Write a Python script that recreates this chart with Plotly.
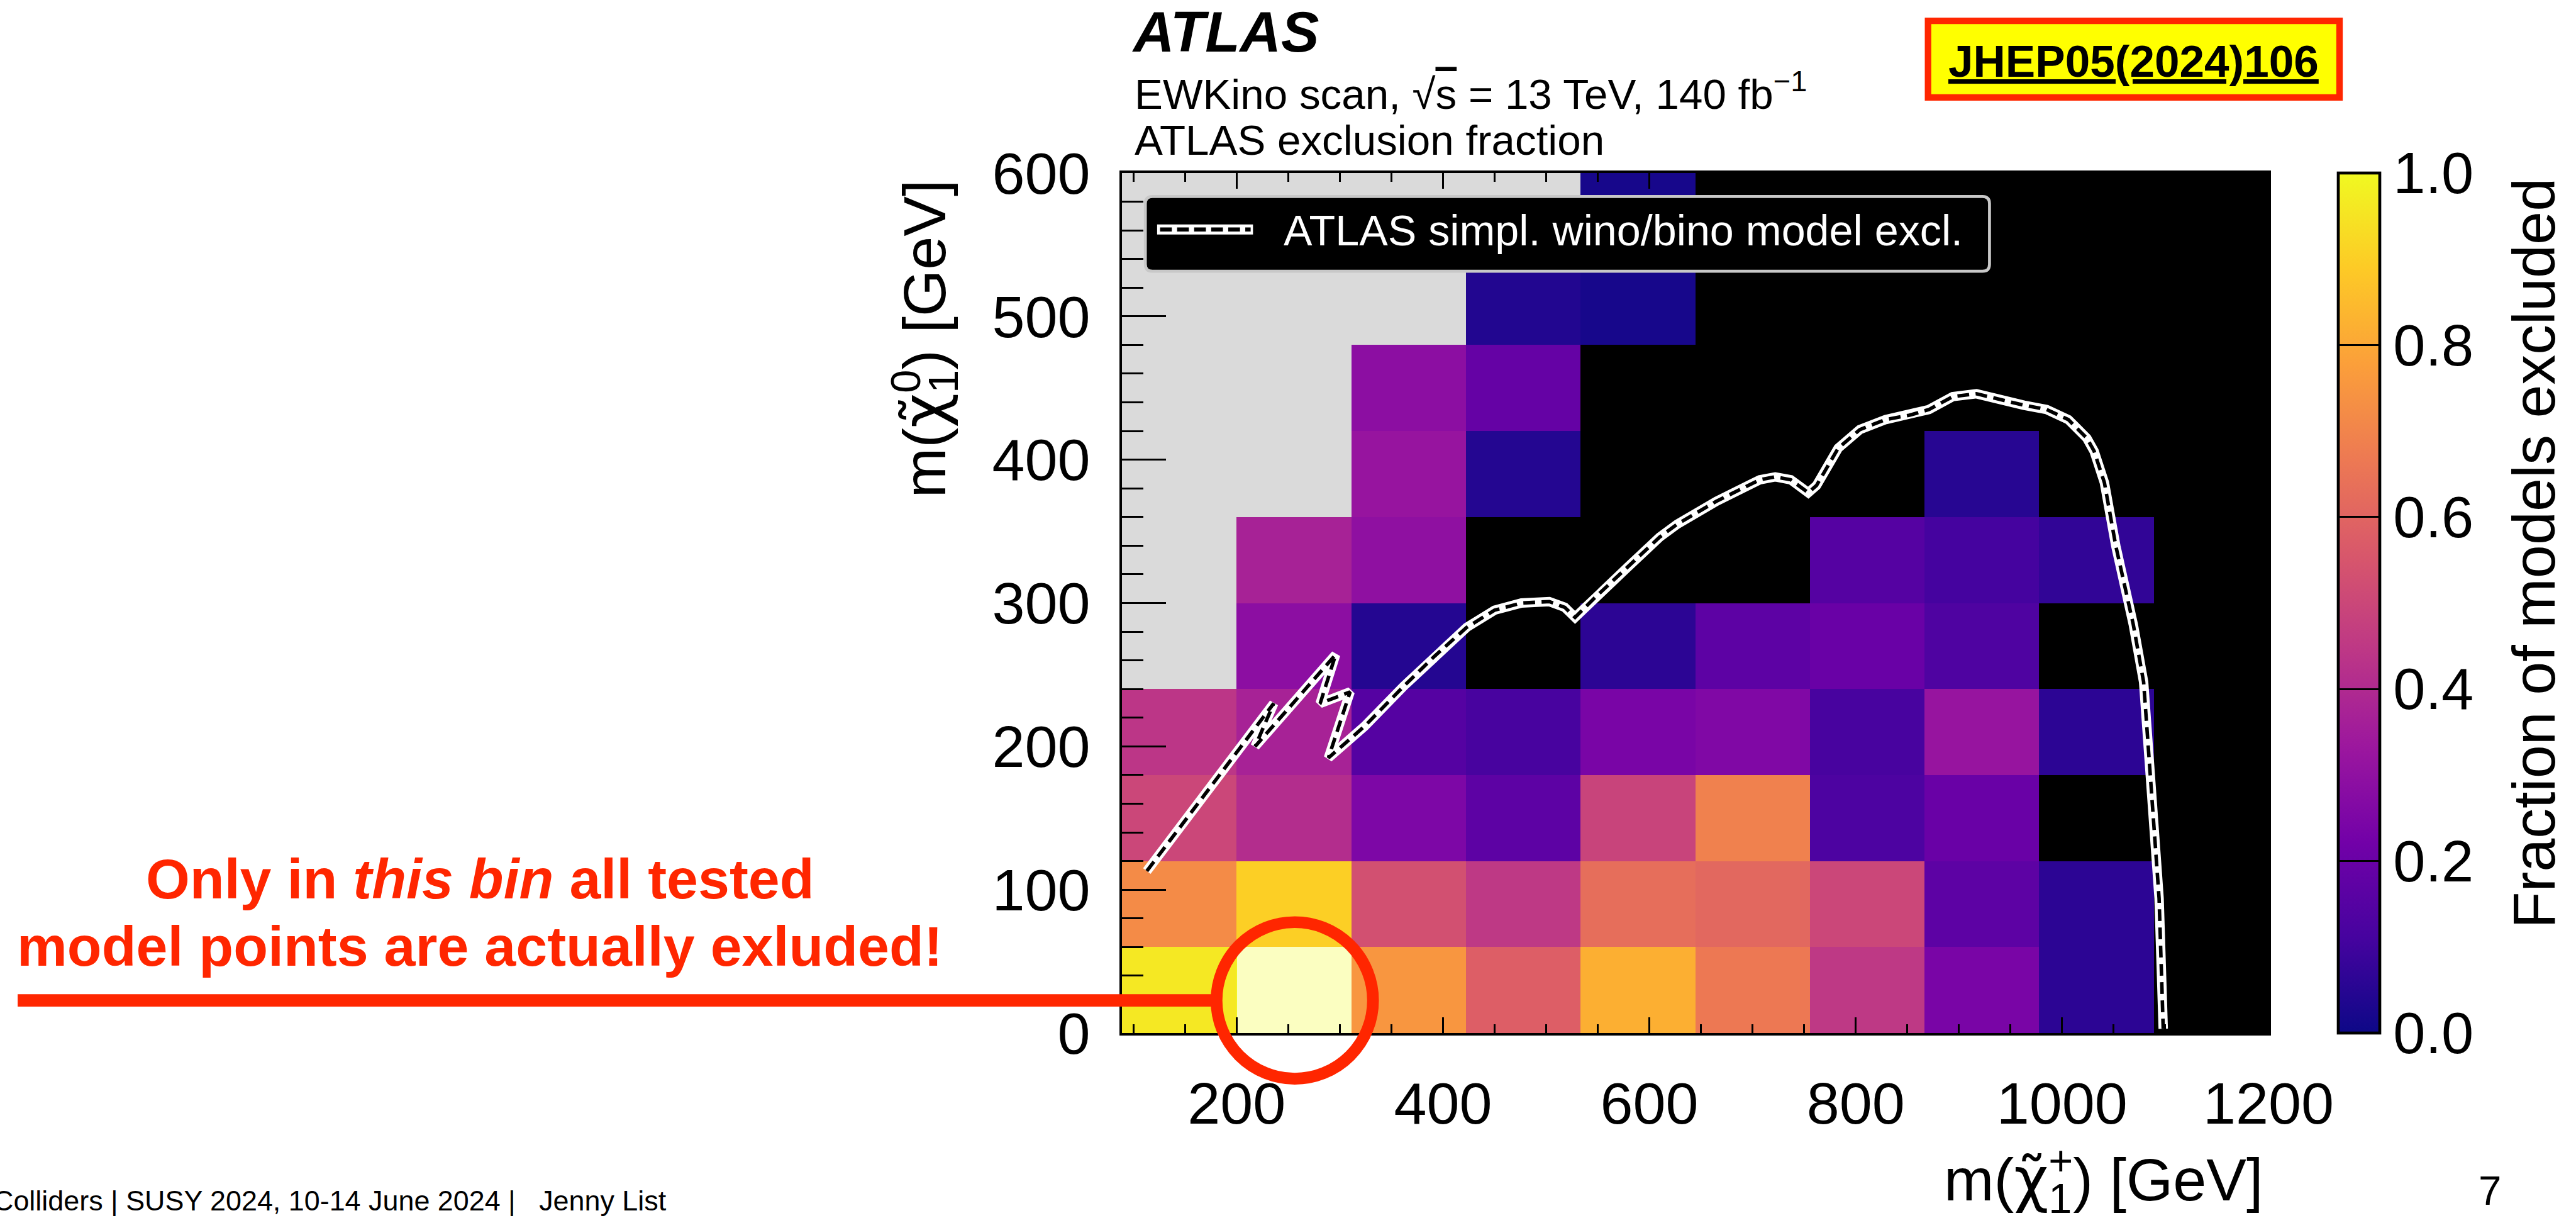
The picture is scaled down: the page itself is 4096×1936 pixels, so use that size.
import plotly.graph_objects as go

# ---------------- geometry helpers (reference px -> output) ----------------
S = 4096 / 4379
W, H = 4096, 1936
ML, MR, MT, MB = 1784, 489, 275, 294
PL, PR, PT, PB = ML, W - MR, MT, H - MB


def px(xr):
    return (xr * S - PL) / (PR - PL)


def py(yr):
    return (PB - yr * S) / (PB - PT)


def sz(v):
    return v * S


FONT = "Liberation Sans, Arial, Helvetica, sans-serif"
RED = "#ff2600"

# ---------------- data ----------------
x_edges = [88.9, 200.0, 311.1, 422.2, 533.3, 644.4, 755.6, 866.7, 977.8, 1088.9, 1200.0]
y_edges = [0, 60, 120, 180, 240, 300, 360, 420, 480, 540, 600]

N = None
# fraction of models excluded, rows from bottom (m_chi0 = 0-60) to top
frac = [
    [0.96, 1.00, 0.75, 0.58, 0.82, 0.665, 0.45, 0.24, 0.06, N],
    [0.72, 0.90, 0.53, 0.45, 0.63, 0.61, 0.50, 0.17, 0.06, N],
    [0.50, 0.41, 0.25, 0.17, 0.49, 0.69, 0.13, 0.20, N, N],
    [0.44, 0.37, 0.15, 0.115, 0.24, 0.26, 0.115, 0.32, 0.06, N],
    [N, 0.29, 0.045, N, 0.06, 0.17, 0.20, 0.135, N, N],
    [N, 0.37, 0.30, N, N, N, 0.15, 0.11, 0.07, N],
    [N, N, 0.32, 0.045, N, N, N, 0.05, N, N],
    [N, N, 0.29, 0.19, N, N, N, N, N, N],
    [N, N, N, 0.04, 0.02, N, N, N, N, N],
    [N, N, N, N, 0.02, N, N, N, N, N],
]
# bins not populated (kinematically excluded region) -> drawn grey
grey_rows = [4, 5, 6, 6, 7, 7, 8, 8, 8, 9, 9, 9, 9]
grey_cols = [0, 0, 0, 1, 0, 1, 0, 1, 2, 0, 1, 2, 3]
# highlighted bin (column, row)
hl_col, hl_row = 1, 0

contour_x = [113, 236, 218, 296, 281, 310, 289, 324, 362, 392, 423, 450, 476, 503, 518,
             528, 549, 579, 610, 627, 665, 707, 722, 737, 754, 762, 783, 804, 829, 852,
             871, 894, 917, 963, 985, 1006, 1024, 1031, 1041, 1052, 1069, 1079, 1085,
             1092, 1094, 1098]
contour_y = [113, 230, 200, 264, 230, 238, 192, 214, 242, 263, 283, 295, 300, 301, 297,
             290, 305, 325, 346, 355, 371, 386, 388, 386, 377, 382, 408, 421, 428, 431,
             435, 444, 446, 438, 435, 428, 415, 406, 384, 340, 285, 245, 186, 115, 94, 3]

cb_ticks = [0.0, 0.2, 0.4, 0.6, 0.8, 1.0]
cb_minor = [0.05, 0.10, 0.15, 0.25, 0.30, 0.35, 0.45, 0.50, 0.55, 0.65, 0.70, 0.75,
            0.85, 0.90, 0.95]

# ---------------- traces ----------------
nrow, ncol = len(y_edges) - 1, len(x_edges) - 1
z_grey = [[None] * ncol for _ in range(nrow)]
for r, c in zip(grey_rows, grey_cols):
    z_grey[r][c] = 1
z_hl = [[None] * ncol for _ in range(nrow)]
z_hl[hl_row][hl_col] = 1

fig = go.Figure()
fig.add_trace(go.Heatmap(x=x_edges, y=y_edges, z=z_grey, showscale=False,
                         colorscale=[[0, "#dadada"], [1, "#dadada"]], hoverinfo="skip"))
fig.add_trace(go.Heatmap(
    x=x_edges, y=y_edges, z=frac, zmin=0, zmax=1, colorscale="Plasma", hoverinfo="skip",
    colorbar=dict(
        x=px(3975), xanchor="left", xpad=0, y=0.5, yanchor="middle", len=1,
        lenmode="fraction", ypad=0, thickness=sz(71), outlinewidth=sz(5),
        outlinecolor="black", ticks="inside", ticklen=sz(71), tickwidth=sz(3),
        tickcolor="black", tickvals=cb_ticks, ticktext=[f"{v:.1f}" for v in cb_ticks],
        tickfont=dict(size=92, color="black", family=FONT),
    )))
fig.add_trace(go.Heatmap(x=x_edges, y=y_edges, z=z_hl, showscale=False, opacity=0.72,
                         colorscale=[[0, "white"], [1, "white"]], hoverinfo="skip"))

fig.add_trace(go.Scatter(x=contour_x, y=contour_y, mode="lines", hoverinfo="skip",
                         line=dict(color="white", width=sz(16)), showlegend=False))
fig.add_trace(go.Scatter(x=contour_x, y=contour_y, mode="lines", hoverinfo="skip",
                         line=dict(color="black", width=sz(6),
                                   dash=f"{sz(20):.1f}px,{sz(11):.1f}px"),
                         showlegend=False))

# ---------------- shapes ----------------
shapes = []


def rounded_rect(x0, y0, x1, y1, r):
    pts = [
        ("M", [(x0 + r, y0)]), ("L", [(x1 - r, y0)]), ("Q", [(x1, y0), (x1, y0 + r)]),
        ("L", [(x1, y1 - r)]), ("Q", [(x1, y1), (x1 - r, y1)]), ("L", [(x0 + r, y1)]),
        ("Q", [(x0, y1), (x0, y1 - r)]), ("L", [(x0, y0 + r)]), ("Q", [(x0, y0), (x0 + r, y0)]),
    ]
    s = ""
    for cmd, pl in pts:
        s += cmd + " " + " ".join(f"{px(a):.5f},{py(b):.5f}" for a, b in pl) + " "
    return s + "Z"


# legend box
shapes.append(dict(type="path", xref="paper", yref="paper",
                   path=rounded_rect(1947, 334, 3382, 461, 12),
                   fillcolor="black", line=dict(color="#c8c8c8", width=sz(5))))
shapes.append(dict(type="line", xref="paper", yref="paper", x0=px(1967), x1=px(2130),
                   y0=py(390), y1=py(390), line=dict(color="white", width=sz(17))))
shapes.append(dict(type="line", xref="paper", yref="paper", x0=px(1972), x1=px(2126),
                   y0=py(390), y1=py(390),
                   line=dict(color="black", width=sz(7), dash=f"{sz(20):.1f}px,{sz(9):.1f}px")))
# colour-bar minor ticks
for v in cb_minor:
    shapes.append(dict(type="line", xref="paper", yref="paper", x0=px(4047 - 35),
                       x1=px(4047), y0=v, y1=v, line=dict(color="black", width=sz(3))))
# JHEP box
shapes.append(dict(type="rect", xref="paper", yref="paper", x0=px(3277.5), x1=px(3977),
                   y0=py(35.5), y1=py(165.5), fillcolor="#ffff00",
                   line=dict(color=RED, width=sz(11))))
# red pointer line and circle
shapes.append(dict(type="line", xref="paper", yref="paper", x0=px(30), x1=px(2070),
                   y0=py(1700), y1=py(1700), line=dict(color=RED, width=sz(21))))
shapes.append(dict(type="circle", xref="paper", yref="paper", x0=px(2068), x1=px(2334),
                   y0=py(1833), y1=py(1567), line=dict(color=RED, width=sz(20))))

# ---------------- annotations ----------------
ann = []


def text(t, xr, yr, size, xa="left", ya="middle", color="black", angle=0):
    ann.append(dict(text=t, x=px(xr), y=py(yr), xref="paper", yref="paper",
                    xanchor=xa, yanchor=ya, showarrow=False, textangle=angle,
                    font=dict(size=size, color=color, family=FONT)))


CHI = "<span style='font-family:DejaVu Sans'>χ̃</span>"
SUB1 = "<sub><span style='letter-spacing:-0.556em'>1</span></sub>"
text("<b><i>ATLAS</i></b>", 1922, 54, sz(97))
text("EWKino scan, √<span style='text-decoration:overline'>s</span> = 13 TeV, 140 fb<sup>−1</sup>",
     1926, 155, sz(72))
text("ATLAS exclusion fraction", 1926, 238, sz(72))
text("<b><span style='text-decoration:underline'>JHEP05(2024)106</span></b>", 3627, 104,
     sz(76), xa="center")
text("ATLAS simpl. wino/bino model excl.", 2180, 391, sz(73), color="white")
text("<b>Only in <i>this bin</i> all tested</b>", 816, 1493, sz(96), xa="center", color=RED)
text("<b>model points are actually exluded!</b>", 816, 1608, sz(96), xa="center", color=RED)
text("Colliders | SUSY 2024, 10-14 June 2024 |\u00a0\u00a0 Jenny List", 1135, 2040, sz(48),
     xa="right")
text("7", 4232, 2023, sz(70), xa="center")
text(f"m({CHI}{SUB1}<sup>0</sup>) [GeV]", 1566, 303, sz(102), xa="center", ya="top",
     angle=-90)
text(f"m({CHI}{SUB1}<sup>+</sup>) [GeV]", 3850, 1998, sz(102), xa="right")
text("Fraction of models excluded", 4307, 300, sz(102), xa="center", ya="top", angle=-90)

# ---------------- layout ----------------
axis_common = dict(showline=True, linewidth=sz(4), linecolor="black", mirror="ticks",
                   showgrid=False, zeroline=False, ticks="inside", tickcolor="black",
                   tickwidth=sz(3), tickfont=dict(size=sz(100), color="black", family=FONT))
fig.update_layout(
    width=W, height=H, margin=dict(l=ML, r=MR, t=MT, b=MB, autoexpand=False),
    paper_bgcolor="white", plot_bgcolor="black", showlegend=False,
    xaxis=dict(range=[88.9, 1200], tick0=0, dtick=200, ticklen=sz(27),
               minor=dict(dtick=50, tick0=0, ticks="inside", ticklen=sz(15),
                          tickwidth=sz(3), tickcolor="black", showgrid=False),
               ticklabelstandoff=28, **axis_common),
    yaxis=dict(range=[0, 600], tick0=0, dtick=100, ticklen=sz(75),
               minor=dict(dtick=20, tick0=0, ticks="inside", ticklen=sz(37),
                          tickwidth=sz(3), tickcolor="black", showgrid=False),
               ticklabelstandoff=28, **axis_common),
    shapes=shapes, annotations=ann,
)

fig.write_html("out.html", config={"displayModeBar": False})
